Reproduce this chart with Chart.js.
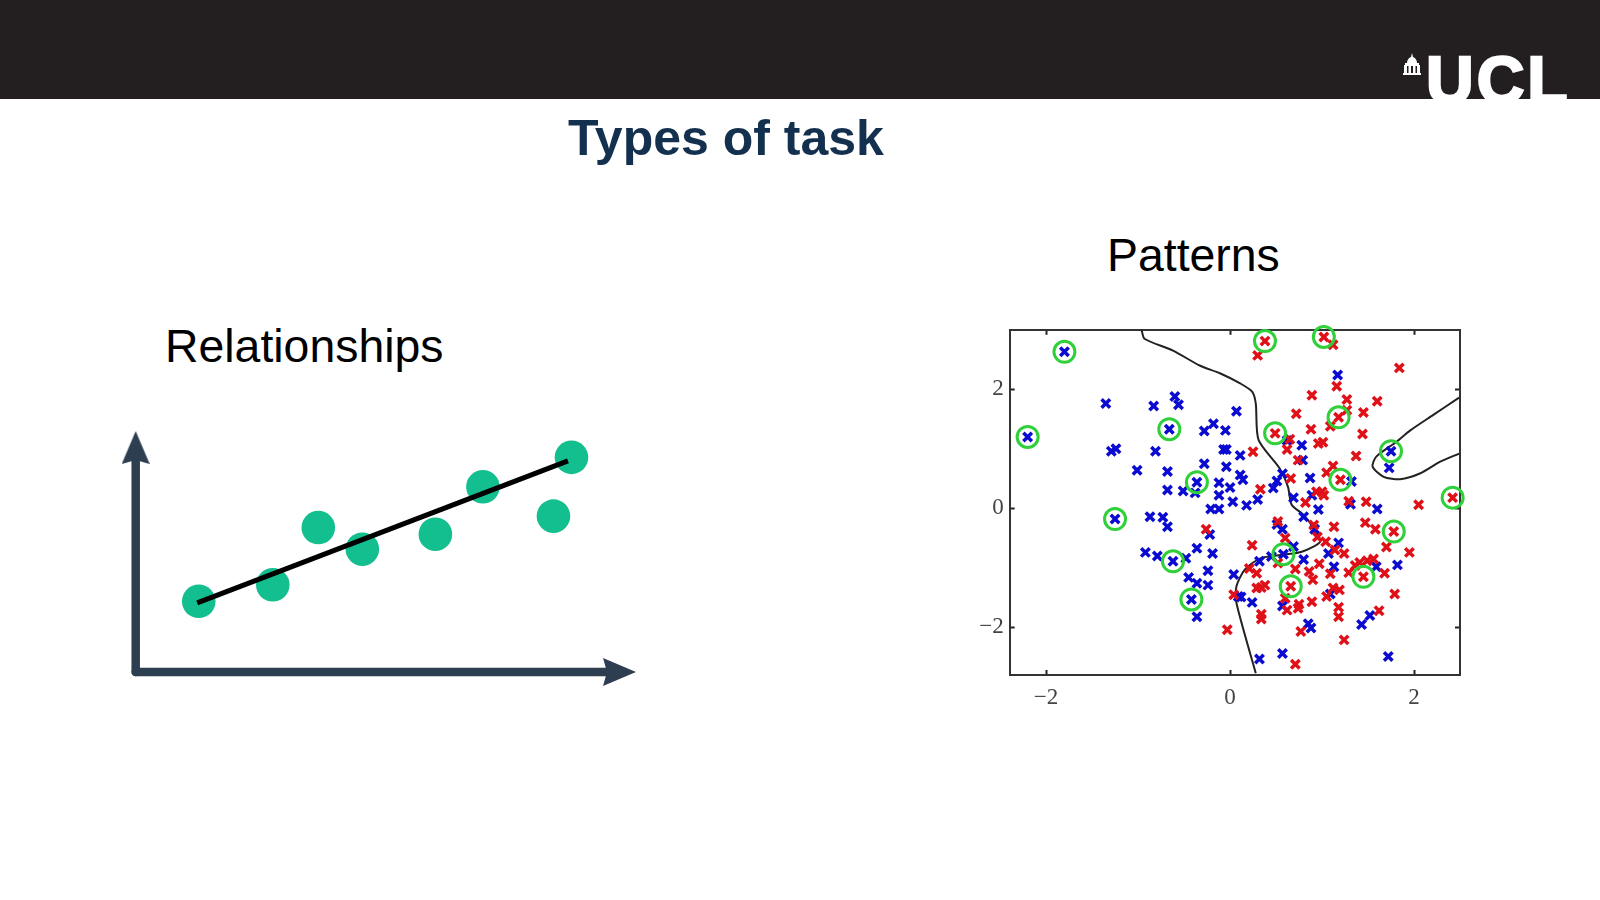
<!DOCTYPE html>
<html>
<head>
<meta charset="utf-8">
<title>Types of task</title>
<script src="https://cdn.jsdelivr.net/npm/chart.js@4"></script>
<style>
    html, body { margin: 0; padding: 0; background: #fff; }
    body { width: 1600px; height: 900px; position: relative; overflow: hidden; font-family: "Liberation Sans", Arial, sans-serif; }
    .bar { position: absolute; left: 0; top: 0; width: 1600px; height: 99px; background: #231f20; overflow: hidden; }
    .ucl { position: absolute; left: 1426px; top: 46.5px; font-size: 66px; line-height: 66px; font-weight: bold; color: #fff; -webkit-text-stroke: 2.5px #fff; letter-spacing: 3px; }
    .dome { position: absolute; left: 1403px; top: 53px; }
    .txt { position: absolute; white-space: nowrap; line-height: 1; color: #000; }
    #title { left: 568px; top: 113px; font-size: 50px; font-weight: bold; color: #14304f; }
    #patterns { left: 1107px; top: 232px; font-size: 46.4px; }
    #relationships { left: 165px; top: 323px; font-size: 46.4px; }
    canvas { position: absolute; }
    #trend { left: 100px; top: 410px; }
    #svm { left: 950px; top: 305px; }
</style>
</head>
<body>
<div class="bar">
    <svg class="dome" width="18" height="22" viewBox="0 0 18 22">
        <path d="M9 0 L10 4 C13 5 14 8 14 10 L16 10 L16 12 L17 12 L17 20 L18 20 L18 22 L0 22 L0 20 L1 20 L1 12 L2 12 L2 10 L4 10 C4 8 5 5 8 4 Z" fill="#fff"/>
        <path d="M4 13 H5.5 V20 H4 Z M8 13 H10 V20 H8 Z M12.5 13 H14 V20 H12.5 Z" fill="#231f20"/>
    </svg>
    <div class="ucl">UCL</div>
</div>
<div class="txt" id="title">Types of task</div>
<div class="txt" id="patterns">Patterns</div>
<div class="txt" id="relationships">Relationships</div>
<canvas id="trend" width="560" height="300"></canvas>
<canvas id="svm" width="540" height="415"></canvas>

<script>
// left picture
const trendX = [1.26, 2.74, 3.65, 4.53, 5.99, 6.94, 8.35, 8.71];
const trendY = [1.37, 1.69, 2.80, 2.38, 2.67, 3.59, 3.02, 4.16];
const fitX = [1.23, 8.64];
const fitY = [1.34, 4.09];
const axisHorizX = [0, 9.67];
const axisHorizY = [0, 0];
const axisVertX = [0, 0];
const axisVertY = [0, 4.35];

// right picture
const blueX = [-1.80, -2.20, -1.35, -0.83, -0.60, -0.56, -0.66, 0.07, -0.28, -0.18, -0.05, -1.29, -1.24, -0.81, -1.01, -0.68, -0.68, -0.51, -0.36, -0.28, -0.12, 0, -0.12, 0.03, -0.04, -0.07, -0.04, 0.11, 0.11, -0.38, -0.21, -0.12,
    -1.25, -0.87, -0.73, -0.68, -0.22, -0.36, -0.19, -0.92, -0.79, -0.62, -0.48, -0.24, -0.45, -0.36, -0.24, -0.42, -0.36, 0.04, 0.09,
    1.17, 0.14, 0.18, 0.30, 0.47, 0.51, 0.57, 0.62, 0.78, 0.79, 0.87, 0.69, 0.89, 0.96, 1.32, 1.31, 1.60, 1.75, 1.73,
    0.80, 0.51, 0.57, 0.92, 1.18, 1.07, 0.69, 0.58, 0.45, 0.32, 0.80, 1.13, 1.59, 1.82, 0.12, 0.24, 1.09, 0.57, 0.85, 0.88, 1.52, 1.43, 0.32, 0.57, 1.72];
const blueY = [2.63, 1.20, 1.76, 1.72, 1.88, 1.74, 1.33, 1.63, 1.30, 1.42, 1.31, 0.96, 1.00, 0.96, 0.64, 0.62, 0.31, 0.29, 0.44, 0.75, 0.43, 0.35, 0.22, 0.11, 0.70, 0.99, 0.99, 0.89, 0.56, 0.26, -0.01, -0.01,
    -0.18, -0.14, -0.15, -0.31, -0.44, -0.67, -0.76, -0.74, -0.80, -0.89, -0.84, -1.05, -1.16, -1.26, -1.29, -1.53, -1.82, -1.11, -1.48,
    2.24, 0.48, 0.05, 0.15, 0.34, 0.46, 0.58, 1.14, 1.06, 0.81, 0.51, 0.18, 0.22, -0.02, 0.45, 0.07, -0.01, 0.96, 0.68,
    -0.14, -0.27, -0.35, -0.35, -0.58, -0.76, -0.64, -0.77, -0.81, -0.89, -0.86, -0.98, -0.98, -0.95, -1.49, -1.58, -1.44, -1.64, -1.94, -2.01, -1.80, -1.95, -2.53, -2.44, -2.49];
const redX = [0.38, 0.30, 1.02, 1.12, 1.84, 1.16, 0.89, 1.27, 1.27, 1.60, 1.45, 0.72, 1.18, 1.09, 0.88, 0.49, 0.65, 0.62, 1.44, 0.96, 1.01, 1.37, 0.25, 0.74, 1.12, 1.05, 1.20, 0.66, 0.33, 0.94, 1.00, 1.02, 0.82, 1.29, 1.48, 2.05, 2.42,
    -0.26, 0.04, -0.03,
    0.52, 0.91, 1.13, 1.47, 1.58, 1.78, 1.70, 1.95, 0.95, 1.04, 1.14, 1.24, 0.24, 0.60, 0.52, 0.97, 0.71, 0.21, 0.29, 0.86, 0.90, 1.09, 1.29, 1.36, 1.41, 1.49, 1.56, 1.45, 1.68, 1.79, 0.38, 0.29, 0.34, 0.66, 1.12, 1.19, 1.05, 0.60, 0.75, 0.74, 0.89, 0.62, 0.34, 0.34, 1.18, 1.18, 1.62, 0.77, 1.24, 0.71];
const redY = [2.81, 2.57, 2.88, 2.75, 2.36, 2.05, 1.90, 1.83, 1.65, 1.80, 1.61, 1.59, 1.53, 1.38, 1.33, 1.26, 1.16, 0.99, 1.25, 1.09, 1.11, 0.88, 0.95, 0.81, 0.71, 0.60, 0.48, 0.50, 0.32, 0.28, 0.28, 0.22, 0.10, 0.12, 0.11, 0.06, 0.18,
    -0.35, -1.45, -2.04,
    -0.22, -0.28, -0.31, -0.24, -0.35, -0.39, -0.65, -0.74, -0.48, -0.56, -0.70, -0.76, -0.62, -0.50, -0.92, -0.93, -1.02, -1.01, -1.09, -1.06, -1.20, -1.10, -1.08, -0.96, -0.91, -0.88, -0.85, -1.15, -1.09, -1.44, -1.29, -1.34, -1.33, -1.31, -1.34, -1.37, -1.48, -1.51, -1.61, -1.68, -1.57, -1.71, -1.78, -1.86, -1.66, -1.82, -1.72, -2.07, -2.21, -2.62];
const supportX = [-1.80, -2.20, -0.66, -0.36, -1.25, -0.62, -0.42, 0.58, 1.75, 0.38, 1.02, 1.18, 0.49, 1.20, 2.42, 1.78, 1.45, 0.66];
const supportY = [2.63, 1.20, 1.33, 0.44, -0.18, -0.89, -1.53, -0.77, 0.96, 2.81, 2.88, 1.53, 1.26, 0.48, 0.18, -0.39, -1.15, -1.31];
const boundaryAX = [-0.96, -0.93, -0.62, -0.33, -0.11, 0.11, 0.24, 0.28, 0.31, 0.54, 0.63, 0.67, 0.80, 0.92, 0.98, 0.78, 0.58, 0.33, 0.16, 0.07, 0.07, 0.28];
const boundaryAY = [2.99, 2.85, 2.65, 2.40, 2.27, 2.10, 1.96, 1.76, 1.15, 0.67, 0.36, 0.06, -0.11, -0.36, -0.56, -0.73, -0.78, -0.84, -1.03, -1.31, -1.59, -2.77];
const boundaryBX = [2.49, 2.21, 1.96, 1.81, 1.59, 1.55, 1.67, 1.85, 2.07, 2.28, 2.49];
const boundaryBY = [1.86, 1.57, 1.31, 1.12, 0.87, 0.70, 0.53, 0.49, 0.59, 0.78, 0.92];
const xTicks = [-2, 0, 2];
const yTicks = [-2, 0, 2];

const pairs = (xs, ys) => xs.map((x, i) => ({ x, y: ys[i] }));

function arrowHead() {
    // points right; chart rotates it for the vertical axis
    const c = document.createElement('canvas');
    c.width = 33;
    c.height = 28;
    const ctx = c.getContext('2d');
    ctx.fillStyle = '#2c3e50';
    ctx.beginPath();
    ctx.moveTo(33, 14);
    ctx.lineTo(0, 0);
    ctx.lineTo(4, 14);
    ctx.lineTo(0, 28);
    ctx.closePath();
    ctx.fill();
    return c;
}

const head = arrowHead();

function axisLine(xs, ys, rotation) {
    return {
        data: pairs(xs, ys),
        showLine: true,
        borderColor: '#2c3e50',
        borderWidth: 8.5,
        borderCapStyle: 'round',
        pointStyle: [false, head],
        pointRotation: rotation,
        pointRadius: [0, 15],
        order: 3,
    };
}

new Chart(document.getElementById('trend'), {
    type: 'scatter',
    data: {
        datasets: [
            {
                data: pairs(fitX, fitY),
                showLine: true,
                borderColor: '#000',
                borderWidth: 5,
                pointRadius: 0,
                order: 1,
            },
            {
                data: pairs(trendX, trendY),
                backgroundColor: '#14bf8f',
                borderWidth: 0,
                pointRadius: 16.8,
                order: 2,
            },
            axisLine(axisHorizX, axisHorizY, 0),
            axisLine(axisVertX, axisVertY, -90),
        ],
    },
    options: {
        responsive: false,
        animation: false,
        layout: { autoPadding: false, padding: { left: 35.7, right: 24, top: 4, bottom: 38 } },
        clip: false,
        plugins: { legend: { display: false }, tooltip: { enabled: false } },
        scales: {
            x: { display: false, min: 0, max: 10 },
            y: { display: false, min: 0, max: 5 },
        },
    },
});

function frameAxis(position, values, showLabels, size, labelPadding) {
    const horizontal = position === 'top' || position === 'bottom';
    return {
        type: 'linear',
        position,
        min: horizontal ? -2.395 : -2.8,
        max: horizontal ? 2.5 : 3,
        afterBuildTicks(scale) {
            scale.ticks = values.map((value) => ({ value }));
        },
        afterFit(scale) {
            if (horizontal) {
                scale.height = size;
            } else {
                scale.width = size;
            }
        },
        border: { display: true, color: '#333', width: 2 },
        grid: { drawOnChartArea: false, drawTicks: true, tickLength: -5, tickColor: '#222', tickWidth: 2 },
        ticks: {
            display: showLabels,
            autoSkip: false,
            maxRotation: 0,
            padding: labelPadding,
            color: '#444',
            font: { family: '"Liberation Serif", serif', size: 23 },
            callback: (value) => (value < 0 ? `\u2212${Math.abs(value)}` : `${value}`),
        },
    };
}

function crosses(xs, ys, color) {
    return {
        data: pairs(xs, ys),
        pointStyle: 'crossRot',
        pointRadius: 6,
        pointBorderWidth: 3.5,
        borderColor: color,
        backgroundColor: color,
        order: 2,
    };
}

function boundary(xs, ys) {
    return {
        data: pairs(xs, ys),
        showLine: true,
        tension: 0.25,
        borderColor: '#222',
        borderWidth: 2,
        pointRadius: 0,
        order: 3,
    };
}

new Chart(document.getElementById('svm'), {
    type: 'scatter',
    data: {
        datasets: [
            boundary(boundaryAX, boundaryAY),
            boundary(boundaryBX, boundaryBY),
            crosses(redX, redY, '#e01018'),
            crosses(blueX, blueY, '#0a0ad0'),
            {
                data: pairs(supportX, supportY),
                pointStyle: 'circle',
                pointRadius: 10.5,
                pointBorderWidth: 3,
                pointBorderColor: '#2fd03a',
                pointBackgroundColor: 'rgba(0, 0, 0, 0)',
                order: 1,
            },
        ],
    },
    options: {
        responsive: false,
        animation: false,
        clip: false,
        layout: { autoPadding: false, padding: { top: 16, right: 30 } },
        plugins: { legend: { display: false }, tooltip: { enabled: false } },
        scales: {
            x: frameAxis('bottom', xTicks, true, 45, 14),
            y: frameAxis('left', yTicks, true, 59.7, 11),
            xTop: frameAxis('top', xTicks, false, 0, 0),
            yRight: frameAxis('right', yTicks, false, 0, 0),
        },
    },
});
</script>
</body>
</html>
